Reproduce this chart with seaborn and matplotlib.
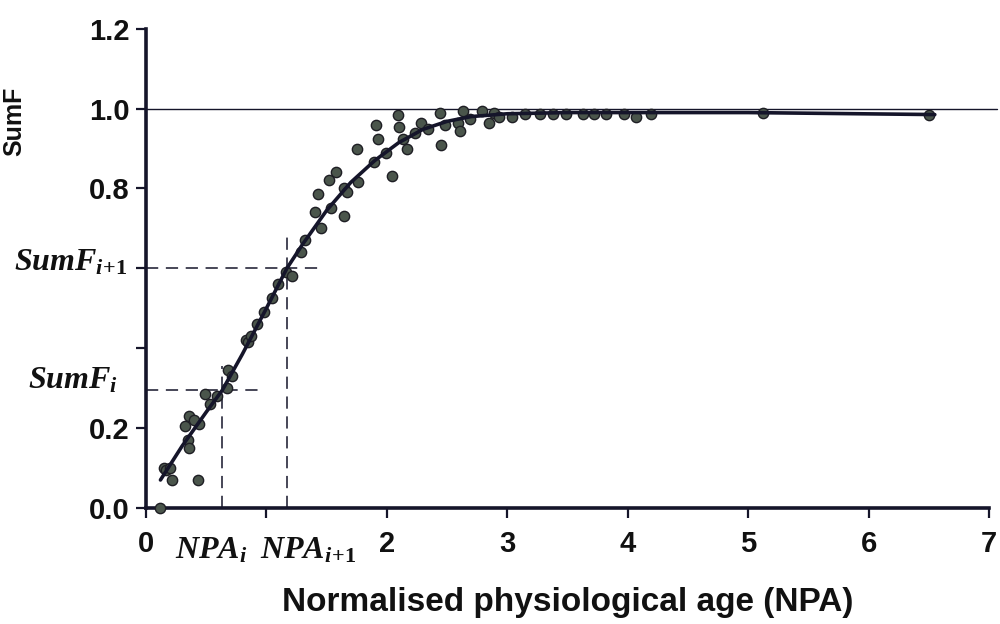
import matplotlib
matplotlib.use("Agg")
import matplotlib.pyplot as plt
import matplotlib.transforms as mtransforms
import seaborn as sns
import pandas as pd

# ---- data ----
npa_obs = [0.115, 0.15, 0.17, 0.20, 0.22, 0.43, 0.32, 0.36, 0.35, 0.36, 0.44, 0.40,
           0.49, 0.53, 0.59, 0.67, 0.68, 0.71, 0.83, 0.85, 0.87, 0.92, 0.98, 1.05,
           1.10, 1.16, 1.21, 1.29, 1.32, 1.40, 1.43, 1.45, 1.52, 1.54, 1.58, 1.64,
           1.67, 1.64, 1.75, 1.76, 1.89, 1.91, 1.93, 1.99, 2.04, 2.09, 2.10, 2.13,
           2.17, 2.23, 2.28, 2.34, 2.44, 2.45, 2.48, 2.59, 2.61, 2.63, 2.69, 2.79,
           2.85, 2.89, 2.93, 3.04, 3.15, 3.27, 3.38, 3.49, 3.63, 3.72, 3.82, 3.97,
           4.07, 4.19, 5.12, 6.50]
sumf_obs = [0.0, 0.10, 0.095, 0.10, 0.07, 0.07, 0.205, 0.23, 0.17, 0.15, 0.21, 0.22,
            0.285, 0.26, 0.28, 0.30, 0.345, 0.33, 0.42, 0.415, 0.43, 0.46, 0.49, 0.525,
            0.56, 0.59, 0.58, 0.64, 0.67, 0.74, 0.785, 0.70, 0.82, 0.75, 0.84, 0.80,
            0.79, 0.73, 0.90, 0.815, 0.865, 0.96, 0.925, 0.89, 0.83, 0.983, 0.953, 0.925,
            0.90, 0.94, 0.965, 0.95, 0.99, 0.91, 0.96, 0.965, 0.945, 0.995, 0.975, 0.995,
            0.965, 0.99, 0.98, 0.98, 0.987, 0.987, 0.987, 0.987, 0.987, 0.987, 0.987, 0.987,
            0.98, 0.987, 0.99, 0.985]

npa_fit = [0.12, 0.3, 0.5, 0.634, 0.8, 1.0, 1.17, 1.3, 1.5, 1.7, 1.9, 2.1, 2.3,
           2.5, 2.7, 3.0, 3.5, 4.0, 5.0, 6.55]
sumf_fit = [0.07, 0.155, 0.24, 0.295, 0.385, 0.50, 0.60, 0.66, 0.745, 0.815, 0.87,
            0.915, 0.948, 0.968, 0.98, 0.987, 0.99, 0.99, 0.99, 0.985]

npa_i, npa_i1 = 0.634, 1.17
sumf_i, sumf_i1 = 0.295, 0.60

y_ticks = [0.0, 0.2, 0.4, 0.6, 0.8, 1.0, 1.2]
y_tick_labels = ["0.0", "0.2", "", "", "0.8", "1.0", "1.2"]
x_ticks = [0, 1, 2, 3, 4, 5, 6, 7]
x_tick_labels = ["0", "", "2", "3", "4", "5", "6", "7"]

obs = pd.DataFrame({"NPA": npa_obs, "SumF": sumf_obs})
fit = pd.DataFrame({"NPA": npa_fit, "SumF": sumf_fit})

sns.set_theme(style="ticks")
plt.rcParams["font.family"] = ["Liberation Sans", "DejaVu Sans"]
plt.rcParams["mathtext.fontset"] = "custom"
plt.rcParams["mathtext.rm"] = "Liberation Serif:bold"
plt.rcParams["mathtext.it"] = "Liberation Serif:italic:bold"
plt.rcParams["mathtext.bf"] = "Liberation Serif:bold"

fig = plt.figure(figsize=(10, 6.24), dpi=100)
ax = fig.add_axes([0.146, 0.186, 0.843, 0.768])

ink = "#15152a"

# reference line at 1.0
ax.plot([0, 7.07], [1.0, 1.0], color=ink, lw=1.0, clip_on=False, zorder=1)

# dashed guides
ax.plot([0, 1.47], [sumf_i1, sumf_i1], color=ink, lw=1.1, ls=(0, (8, 5)), zorder=1)
ax.plot([npa_i1, npa_i1], [0, 0.68], color=ink, lw=1.1, ls=(0, (8, 5)), zorder=1)
ax.plot([0, 0.955], [sumf_i, sumf_i], color=ink, lw=1.1, ls=(0, (8, 5)), zorder=1)
ax.plot([npa_i, npa_i], [0, 0.355], color=ink, lw=1.1, ls=(0, (8, 5)), zorder=1)

sns.scatterplot(data=obs, x="NPA", y="SumF", ax=ax, s=55, color="#4a554b",
                edgecolor="#1e1e24", linewidth=1.0, zorder=3, clip_on=False)
sns.lineplot(data=fit, x="NPA", y="SumF", ax=ax, sort=False, color=ink,
             lw=2.6, zorder=4)

ax.set_xlim(0, 7)
ax.set_ylim(0, 1.2)
ax.set_xticks(x_ticks)
ax.set_xticklabels(x_tick_labels)
ax.set_yticks(y_ticks)
ax.set_yticklabels(y_tick_labels)
for lab in ax.get_xticklabels() + ax.get_yticklabels():
    lab.set_fontweight("bold")
    lab.set_fontsize(21)
ax.tick_params(axis="both", direction="out", length=7, width=1.6, color=ink,
               labelcolor="#111111")
ax.tick_params(axis="x", pad=9)
ax.tick_params(axis="y", pad=5)

for side in ["top", "right"]:
    ax.spines[side].set_visible(False)
for side in ["left", "bottom"]:
    ax.spines[side].set_linewidth(2.6)
    ax.spines[side].set_color(ink)

ax.set_xlabel("Normalised physiological age (NPA)", fontsize=24,
              fontweight="bold", color="#111111")
ax.xaxis.set_label_coords(0.5, -0.165)
ax.set_ylabel("SumF", fontsize=18, fontweight="bold", color="#111111")
ax.yaxis.set_label_coords(-0.142, 0.806)

# italic serif labels on the axes
tx = mtransforms.blended_transform_factory(ax.transData, ax.transAxes)
ax.text(0.54, -0.088, r"$NPA_i$", transform=tx, ha="center", va="center",
        fontsize=23, color="#111111")
ax.text(1.35, -0.088, r"$NPA_{i\!+\!1}$", transform=tx, ha="center", va="center",
        fontsize=23, color="#111111")
ty = mtransforms.blended_transform_factory(ax.transAxes, ax.transData)
ax.text(-0.021, 0.615, r"$SumF_{i\!+\!1}$", transform=ty, ha="right", va="center",
        fontsize=23, color="#111111")
ax.text(-0.033, 0.318, r"$SumF_i$", transform=ty, ha="right", va="center",
        fontsize=23, color="#111111")

ax.set_facecolor("white")
fig.patch.set_facecolor("white")
fig.savefig("out.png", dpi=100, facecolor="white")
